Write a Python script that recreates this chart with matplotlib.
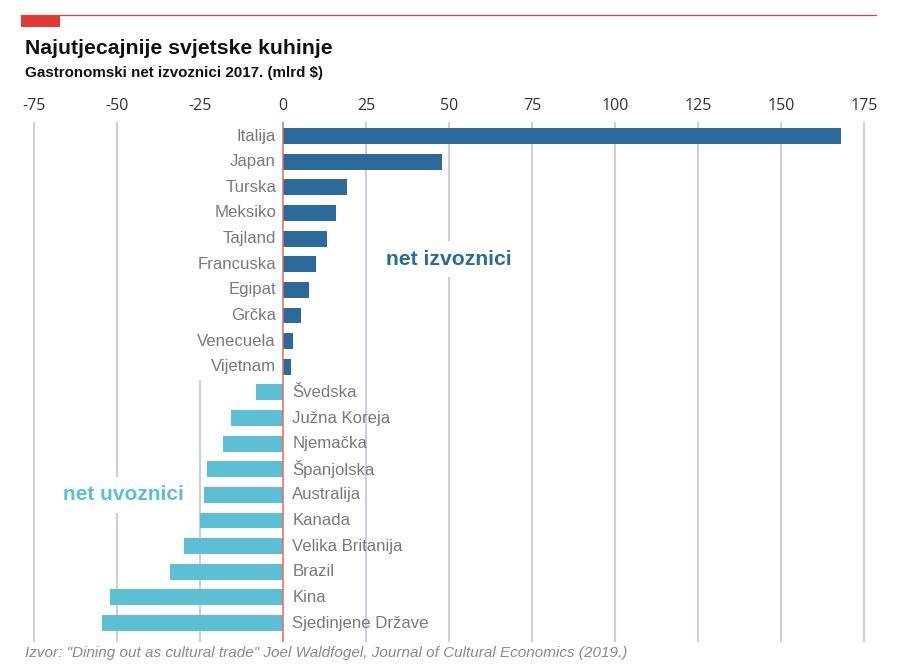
import matplotlib
matplotlib.use("Agg")
import matplotlib.pyplot as plt
from matplotlib.patches import Rectangle

COUNTRIES = [
    "Italija", "Japan", "Turska", "Meksiko", "Tajland", "Francuska",
    "Egipat", "Grčka", "Venecuela", "Vijetnam",
    "Švedska", "Južna Koreja", "Njemačka", "Španjolska", "Australija",
    "Kanada", "Velika Britanija", "Brazil", "Kina", "Sjedinjene Države",
]
VALUES = [
    168.0, 47.8, 19.4, 16.0, 13.3, 9.9, 7.9, 5.5, 3.0, 2.4,
    -8.2, -15.7, -18.2, -23.0, -23.8, -24.9, -29.9, -33.9, -52.2, -54.5,
]
TICKS = [-75, -50, -25, 0, 25, 50, 75, 100, 125, 150, 175]

DARK = "#2c6a9c"
LIGHT = "#5cbfd4"
GRID = "#cdcddc"
FONT = ["Liberation Sans", "DejaVu Sans"]

plt.rcParams["font.family"] = FONT

fig = plt.figure(figsize=(9, 6.72), dpi=100)
ax = fig.add_axes([34 / 900, 30 / 672, 830 / 900, 520 / 672])
ax.set_xlim(-75, 175)
ax.set_ylim(19.74, -0.55)

rows = list(range(len(COUNTRIES)))
colors = [DARK if v > 0 else LIGHT for v in VALUES]

# grid lines (the -25 one starts below the exporter labels)
for t in TICKS:
    if t == 0:
        continue
    top = 9.5 if t == -25 else -0.55
    ax.vlines(t, top, 19.74, color=GRID, lw=1.5, zorder=1, clip_on=False)

ax.barh(rows, VALUES, height=0.62, color=colors, zorder=3)
ax.axvline(0, color="#e06a5a", lw=1.1, zorder=4)

for i, (name, v) in enumerate(zip(COUNTRIES, VALUES)):
    if v > 0:
        ax.text(-2.1, i, name, ha="right", va="center", fontsize=12.1,
                color="#7a7a7a", zorder=5)
    else:
        ax.text(2.8, i, name, ha="left", va="center", fontsize=12.1,
                color="#7a7a7a", zorder=5)

ax.text(50, 4.8, "net izvoznici", ha="center", va="center", fontsize=15.2,
        fontweight="bold", color=DARK, zorder=5,
        bbox=dict(facecolor="white", edgecolor="none", pad=6))
ax.text(-48, 14.0, "net uvoznici", ha="center", va="center", fontsize=15,
        fontweight="bold", color=LIGHT, zorder=5,
        bbox=dict(facecolor="white", edgecolor="none", pad=6))

ax.set_xticks(TICKS)
ax.set_xticklabels([str(t) for t in TICKS], fontsize=11.5, color="#333333",
                   family=["Open Sans", "DejaVu Sans"])
ax.xaxis.tick_top()
ax.tick_params(axis="x", length=0, pad=6)
ax.set_yticks([])
for s in ax.spines.values():
    s.set_visible(False)

# header
fig.add_artist(plt.Line2D([21 / 900, 876 / 900], [1 - 15 / 672, 1 - 15 / 672],
                          color="#e0413a", lw=0.9))
fig.add_artist(Rectangle((21 / 900, 1 - 27 / 672), 39 / 900, 12 / 672,
                         color="#dc3a32", lw=0))
fig.text(25 / 900, 1 - 48 / 672, "Najutjecajnije svjetske kuhinje",
         fontsize=15.3, fontweight="bold", color="#111111", va="center")
fig.text(25 / 900, 1 - 73 / 672, "Gastronomski net izvoznici 2017. (mlrd $)",
         fontsize=10.9, fontweight="bold", color="#111111", va="center")
fig.text(25 / 900, 1 - 653 / 672,
         "Izvor: \"Dining out as cultural trade\" Joel Waldfogel, Journal of Cultural Economics (2019.)",
         fontsize=11, style="italic", color="#8a8a8a", va="center")

fig.savefig("out.png", dpi=100, facecolor="white")
